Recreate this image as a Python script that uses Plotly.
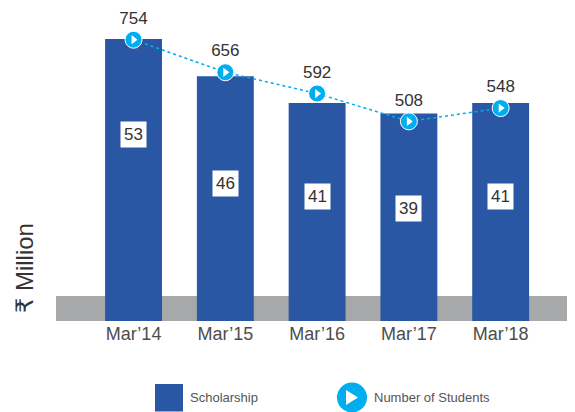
import plotly.graph_objects as go

categories = ["Mar’14", "Mar’15", "Mar’16", "Mar’17", "Mar’18"]
scholarship = [53, 46, 41, 39, 41]
students = [754, 656, 592, 508, 548]

# style: vertical placement of the boxed bar labels (fraction of bar height)
label_frac = [0.66, 0.56, 0.57, 0.54, 0.57]

BAR = "#2A57A4"
CYAN = "#00AEEF"
GRAY = "#A7A8AA"
TXT = "#333333"
FONT = "Arial, Liberation Sans, DejaVu Sans, sans-serif"

# the page places the figure 8px in from the top-left corner
OFF = 8
W, H = 575 - OFF, 412 - OFF
PL, PR, PT, PB = 56, 575, 8, 321          # plot area in page pixels
L, R, T, B = PL - OFF, 0, PT - OFF, (412 - PB)
pw, ph = PR - PL, PB - PT
SCALE = 5.32                               # px per scholarship unit

def px_x(p):
    return (p - PL) / pw

def px_y(p):
    return 1 - (p - PT) / ph

fig = go.Figure()
fig.add_trace(go.Bar(
    x=categories, y=scholarship, marker=dict(color=BAR, line=dict(width=0)),
    width=0.62, showlegend=False, hoverinfo="skip"))
fig.add_trace(go.Scatter(
    x=categories, y=students, yaxis="y2", mode="lines+markers+text",
    line=dict(color=CYAN, width=1.5, dash="dot"),
    marker=dict(symbol="circle", size=17, color=CYAN, line=dict(color="white", width=1)),
    text=[str(v) for v in students], textposition="top center",
    textfont=dict(size=17, color=TXT, family=FONT),
    cliponaxis=False, showlegend=False, hoverinfo="skip"))
fig.add_trace(go.Scatter(
    x=categories, y=students, yaxis="y2", mode="markers",
    marker=dict(symbol="triangle-right", size=8, color="white", line=dict(width=0)),
    cliponaxis=False, showlegend=False, hoverinfo="skip"))

annotations = []
for c, v, f in zip(categories, scholarship, label_frac):
    annotations.append(dict(
        x=c, y=v * f, xref="x", yref="y", text=str(v), showarrow=False,
        font=dict(size=17, color=TXT, family=FONT), bgcolor="white",
        borderpad=3))

annotations.append(dict(
    x=px_x(24), y=px_y(268), xref="paper", yref="paper", text="₹ Million",
    textangle=-90, showarrow=False, font=dict(size=24, color=TXT, family=FONT),
    xanchor="center", yanchor="middle"))
annotations.append(dict(
    x=px_x(188), y=px_y(397), xref="paper", yref="paper", text="Scholarship",
    showarrow=False, xanchor="left", yanchor="middle",
    font=dict(size=13, color="#555555", family=FONT)))
annotations.append(dict(
    x=px_x(372), y=px_y(397), xref="paper", yref="paper", text="Number of Students",
    showarrow=False, xanchor="left", yanchor="middle",
    font=dict(size=13, color="#555555", family=FONT)))

shapes = [
    dict(type="rect", xref="paper", yref="y", x0=0, x1=1, y0=0, y1=25 / SCALE,
         fillcolor=GRAY, line=dict(width=0), layer="below"),
    dict(type="rect", xref="paper", yref="paper", x0=px_x(155), x1=px_x(183),
         y0=px_y(411.5), y1=px_y(384), fillcolor=BAR, line=dict(width=0)),
    dict(type="circle", xref="paper", yref="paper", x0=px_x(337), x1=px_x(367),
         y0=px_y(412.5), y1=px_y(382.5), fillcolor=CYAN, line=dict(width=0)),
    dict(type="path", xref="paper", yref="paper",
         path=f"M {px_x(346)} {px_y(390)} L {px_x(358)} {px_y(397.5)} L {px_x(346)} {px_y(405)} Z",
         fillcolor="white", line=dict(width=0)),
]

y_top = ph / SCALE
y2_slope = 0.332
y2_lo = 611.6 - (PB - 87) / y2_slope
y2_hi = 611.6 + (87 - PT) / y2_slope

fig.update_layout(
    width=W, height=H, margin=dict(l=L, r=R, t=T, b=B),
    paper_bgcolor="white", plot_bgcolor="white",
    xaxis=dict(range=[-0.845, 4.81], showgrid=False, zeroline=False, showline=False,
               ticks="", tickfont=dict(size=18, color="#4d4d4d", family=FONT)),
    yaxis=dict(range=[0, y_top], visible=False),
    yaxis2=dict(range=[y2_lo, y2_hi], overlaying="y", visible=False),
    annotations=annotations, shapes=shapes, showlegend=False,
)

fig.write_html("out.html")
